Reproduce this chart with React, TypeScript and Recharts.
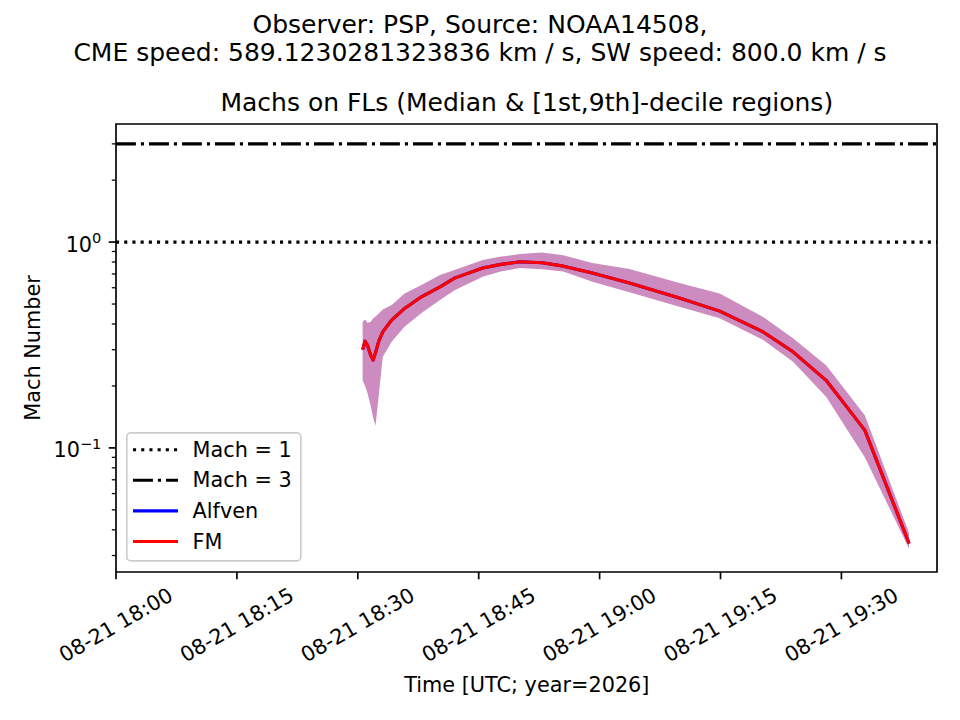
import { Area, ComposedChart, Legend, Line, ReferenceArea, ReferenceLine, XAxis, YAxis } from "recharts";

const FONT = "'DejaVu Sans', sans-serif";

// minutes after 2026-08-21 18:00 UTC
const times = [
  30.6, 30.9, 31.2, 31.6, 31.9, 32.2, 32.6, 33.1, 34.2, 35.8, 37.9, 40.2, 42.0, 45.5, 47.6, 50.1, 52.9,
  55.5, 59.1, 63.7, 69.9, 74.9, 80.3, 84.0, 88.1, 92.9, 98.4,
];
const fmMedian = [
  0.3, 0.33, 0.315, 0.282, 0.267, 0.29, 0.33, 0.366, 0.418, 0.476, 0.542, 0.606, 0.668, 0.748, 0.777,
  0.802, 0.793, 0.764, 0.707, 0.632, 0.535, 0.462, 0.366, 0.293, 0.213, 0.122, 0.0343,
];
const alfvenMedian = [
  0.3, 0.33, 0.315, 0.282, 0.267, 0.29, 0.33, 0.366, 0.418, 0.476, 0.542, 0.606, 0.668, 0.748, 0.777,
  0.802, 0.793, 0.764, 0.707, 0.632, 0.535, 0.462, 0.366, 0.293, 0.213, 0.122, 0.0343,
];
const decile1 = [
  0.213, 0.2, 0.185, 0.16, 0.14, 0.128, 0.18, 0.277, 0.328, 0.388, 0.452, 0.523, 0.584, 0.678, 0.717,
  0.748, 0.737, 0.72, 0.641, 0.571, 0.485, 0.427, 0.334, 0.262, 0.177, 0.09, 0.0324,
];
const decile9 = [
  0.41, 0.42, 0.405, 0.41, 0.425, 0.435, 0.45, 0.47, 0.494, 0.563, 0.618, 0.691, 0.731, 0.818, 0.848,
  0.875, 0.891, 0.864, 0.791, 0.739, 0.632, 0.563, 0.433, 0.341, 0.252, 0.144, 0.0385,
];

const xTicks = [0, 15, 30, 45, 60, 75, 90];
const xTickLabels = [
  "08-21 18:00",
  "08-21 18:15",
  "08-21 18:30",
  "08-21 18:45",
  "08-21 19:00",
  "08-21 19:15",
  "08-21 19:30",
];
const yMajorTicks = [0.1, 1];
const yMajorExponents = ["\u22121", "0"];
const yMinorTicks = [0.03, 0.04, 0.05, 0.06, 0.07, 0.08, 0.09, 0.2, 0.3, 0.4, 0.5, 0.6, 0.7, 0.8, 0.9, 2, 3];

const X_DOMAIN: [number, number] = [0, 101.86];
const Y_DOMAIN: [number, number] = [0.02495, 3.747];

const data = times.map((t, i) => ({
  t,
  fm: fmMedian[i],
  alfven: alfvenMedian[i],
  band: [decile1[i], decile9[i]],
}));

function XTick({ x, y, payload }: any) {
  const label = xTickLabels[xTicks.indexOf(payload.value)] ?? "";
  const cy = y + 53;
  return (
    <g>
      <line x1={x} x2={x} y1={y} y2={y + 7.3} stroke="#000" strokeWidth={1.67} />
      <text
        x={x}
        y={cy}
        textAnchor="middle"
        dominantBaseline="central"
        transform={`rotate(-30 ${x} ${cy})`}
        fontSize={20.8}
        fontFamily={FONT}
        fill="#000"
      >
        {label}
      </text>
    </g>
  );
}

function YTick({ x, y, payload }: any) {
  const idx = yMajorTicks.indexOf(payload.value);
  if (idx < 0) {
    return <line x1={x - 4.2} x2={x} y1={y} y2={y} stroke="#000" strokeWidth={1.25} />;
  }
  return (
    <g>
      <line x1={x - 7.3} x2={x} y1={y} y2={y} stroke="#000" strokeWidth={1.67} />
      <text x={x - 14.6} y={y + 9.5} textAnchor="end" fontSize={20.8} fontFamily={FONT} fill="#000">
        10
        <tspan dy={-8.2} fontSize={14.6}>
          {yMajorExponents[idx]}
        </tspan>
      </text>
    </g>
  );
}

function LegendBox() {
  const rows = [
    { label: "Mach = 1", color: "#000", dash: "3.1 5.1" },
    { label: "Mach = 3", color: "#000", dash: "19.9 5 3.1 5" },
    { label: "Alfven", color: "#0000ff", dash: undefined },
    { label: "FM", color: "#ff0000", dash: undefined },
  ];
  return (
    <svg width={176} height={130} style={{ display: "block" }}>
      <rect x={0.8} y={0.8} width={174} height={128} rx={4} fill="#fff" fillOpacity={0.8} stroke="#cccccc" strokeWidth={1.67} />
      {rows.map((r, i) => {
        const cy = 17.7 + i * 30.6;
        return (
          <g key={r.label}>
            <line x1={7} x2={52} y1={cy} y2={cy} stroke={r.color} strokeWidth={3.1} strokeDasharray={r.dash} />
            <text x={66.6} y={cy} dominantBaseline="central" fontSize={20.8} fontFamily={FONT} fill="#000">
              {r.label}
            </text>
          </g>
        );
      })}
    </svg>
  );
}

export default function App() {
  return (
    <div style={{ position: "absolute", left: 0, top: 0, width: 960, height: 720, background: "#fff" }}>
      <ComposedChart width={960} height={720} data={data} margin={{ top: 124, right: 23, bottom: 0, left: 0 }}>
        <XAxis
          dataKey="t"
          type="number"
          domain={X_DOMAIN}
          allowDataOverflow
          ticks={xTicks}
          interval={0}
          height={148}
          tickSize={0}
          tickMargin={0}
          axisLine={false}
          tickLine={false}
          tick={(p: any) => <XTick {...p} />}
        />
        <YAxis
          type="number"
          scale="log"
          domain={Y_DOMAIN}
          allowDataOverflow
          ticks={[...yMinorTicks, ...yMajorTicks]}
          interval={0}
          width={116}
          tickSize={0}
          tickMargin={0}
          axisLine={false}
          tickLine={false}
          tick={(p: any) => <YTick {...p} />}
        />
        <Area
          dataKey="band"
          type="linear"
          stroke="none"
          fill="#cd8cbf"
          fillOpacity={1}
          isAnimationActive={false}
        />
        <Line
          dataKey="alfven"
          type="linear"
          stroke="#0000ff"
          strokeWidth={3.1}
          dot={false}
          strokeLinejoin="round"
          isAnimationActive={false}
        />
        <Line
          dataKey="fm"
          type="linear"
          stroke="#ff0000"
          strokeWidth={3.1}
          dot={false}
          strokeLinejoin="round"
          isAnimationActive={false}
        />
        <ReferenceLine y={1} stroke="#000" strokeWidth={3.1} strokeDasharray="3.1 5.1" />
        <ReferenceLine y={3} stroke="#000" strokeWidth={3.1} strokeDasharray="19.9 5 3.1 5" />
        <ReferenceArea
          x1={X_DOMAIN[0]}
          x2={X_DOMAIN[1]}
          y1={Y_DOMAIN[0]}
          y2={Y_DOMAIN[1]}
          ifOverflow="visible"
          fill="none"
          fillOpacity={0}
          stroke="#000"
          strokeWidth={1.67}
        />
        <Legend
          layout="vertical"
          align="center"
          verticalAlign="middle"
          wrapperStyle={{ left: 126, top: 432, width: 176, height: 130 }}
          content={() => <LegendBox />}
        />
      </ComposedChart>
      <svg
        width={960}
        height={720}
        style={{ position: "absolute", left: 0, top: 0, pointerEvents: "none" }}
        fontFamily={FONT}
        fill="#000"
      >
        <text x={480} y={32.7} textAnchor="middle" fontSize={25}>
          Observer: PSP, Source: NOAA14508,
        </text>
        <text x={480} y={61} textAnchor="middle" fontSize={25}>
          CME speed: 589.1230281323836 km / s, SW speed: 800.0 km / s
        </text>
        <text x={526.8} y={111} textAnchor="middle" fontSize={25}>
          Machs on FLs (Median &amp; [1st,9th]-decile regions)
        </text>
        <text x={526.8} y={691.7} textAnchor="middle" fontSize={20.8}>
          Time [UTC; year=2026]
        </text>
        <text transform="translate(40 348) rotate(-90)" textAnchor="middle" fontSize={20.8}>
          Mach Number
        </text>
      </svg>
    </div>
  );
}
